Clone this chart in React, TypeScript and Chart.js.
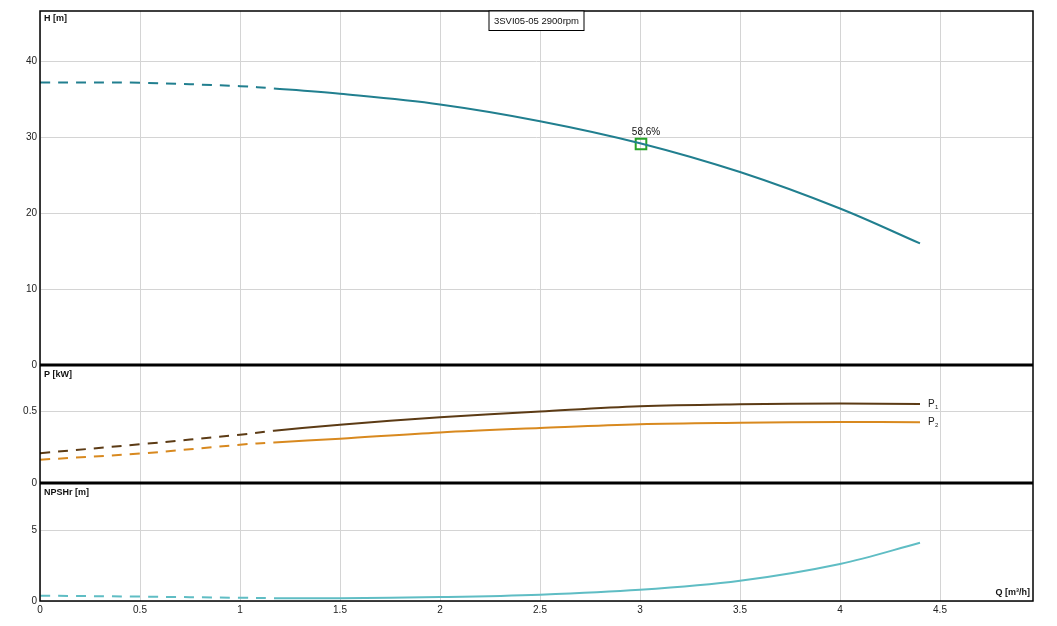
import { useEffect, useRef } from 'react';
import { Chart, registerables } from 'chart.js';

Chart.register(...registerables);

// ---- data ----
const FLOW = [0, 0.5, 1.0, 1.17, 1.5, 2.0, 2.5, 3.0, 3.5, 4.0, 4.4];
const HEAD = [37.2, 37.15, 36.7, 36.4, 35.7, 34.3, 32.1, 29.2, 25.4, 20.6, 16.0];
const POWER_P1 = [0.209, 0.271, 0.338, 0.366, 0.408, 0.46, 0.5, 0.537, 0.551, 0.556, 0.553];
const POWER_P2 = [0.163, 0.206, 0.268, 0.284, 0.31, 0.354, 0.385, 0.412, 0.422, 0.427, 0.425];
const NPSHR = [0.38, 0.31, 0.23, 0.2, 0.19, 0.28, 0.45, 0.79, 1.43, 2.62, 4.12];
const DASHED_UNTIL = 1.17;

const DUTY_Q = [3.005];
const DUTY_H = [29.1];
const DUTY_LABEL = ['58.6%'];

const Q_TICKS = [0, 0.5, 1, 1.5, 2, 2.5, 3, 3.5, 4, 4.5];
const H_TICKS = [0, 10, 20, 30, 40];
const P_TICKS = [0, 0.5];
const NPSH_TICKS = [0, 5];

const Q_MAX = 4.965;
const H_MAX = 46.6;
const P_MAX = 0.826;
const NPSH_MAX = 8.35;

const TITLE = '3SVI05-05 2900rpm';
const H_TITLE = 'H [m]';
const P_TITLE = 'P [kW]';
const NPSH_TITLE = 'NPSHr [m]';
const Q_TITLE = 'Q [m³/h]';
const P_LABELS = [['P', '1'], ['P', '2']];

const FONT = '"Liberation Sans", Arial, sans-serif';
const GRID = '#d4d4d4';

const pts = (ys: number[]) => FLOW.map((x, i) => ({ x, y: ys[i] }));
const dashSeg = { borderDash: (c: any) => (c.p1.parsed.x <= DASHED_UNTIL + 1e-9 ? [10, 8] : []) };

const setTicks = (vals: number[]) => (scale: any) => {
  scale.ticks = vals.map((v) => ({ value: v }));
};

const overlay = {
  id: 'overlay',
  afterDraw(chart: any) {
    const { ctx, chartArea: a, scales } = chart;
    ctx.save();
    // panel separators
    ctx.strokeStyle = '#000';
    ctx.lineWidth = 3;
    for (const y of [scales.yP.top, scales.yN.top]) {
      ctx.beginPath();
      ctx.moveTo(a.left, y);
      ctx.lineTo(a.right, y);
      ctx.stroke();
    }
    // outer border
    ctx.lineWidth = 1.5;
    ctx.strokeRect(a.left, a.top, a.right - a.left, a.bottom - a.top);

    // axis titles
    ctx.fillStyle = '#111';
    ctx.textBaseline = 'middle';
    ctx.textAlign = 'left';
    ctx.font = 'bold 9px ' + FONT;
    ctx.fillText(H_TITLE, a.left + 4, scales.yH.top + 8);
    ctx.fillText(P_TITLE, a.left + 4, scales.yP.top + 10);
    ctx.fillText(NPSH_TITLE, a.left + 4, scales.yN.top + 10);
    ctx.textAlign = 'right';
    ctx.fillText(Q_TITLE, a.right - 3, a.bottom - 8);

    // title box
    const cx = (a.left + a.right) / 2;
    ctx.lineWidth = 1;
    ctx.strokeStyle = '#000';
    ctx.fillStyle = '#fff';
    ctx.fillRect(cx - 47.5, a.top, 95, 19.5);
    ctx.strokeRect(cx - 47.5, a.top, 95, 19.5);
    ctx.fillStyle = '#111';
    ctx.textAlign = 'center';
    ctx.font = '9.5px ' + FONT;
    ctx.fillText(TITLE, cx, a.top + 10);

    // duty point label
    ctx.font = '10px ' + FONT;
    DUTY_Q.forEach((q, i) => {
      const px = scales.x.getPixelForValue(q);
      const py = scales.yH.getPixelForValue(DUTY_H[i]);
      ctx.fillText(DUTY_LABEL[i], px + 5, py - 12);
    });

    // P1 / P2 labels
    const last = FLOW.length - 1;
    const ex = scales.x.getPixelForValue(FLOW[last]) + 8;
    [POWER_P1[last], POWER_P2[last]].forEach((v, i) => {
      const py = scales.yP.getPixelForValue(v);
      ctx.textAlign = 'left';
      ctx.fillStyle = '#222';
      ctx.font = '10px ' + FONT;
      ctx.fillText(P_LABELS[i][0], ex, py);
      ctx.font = '6px ' + FONT;
      ctx.fillText(P_LABELS[i][1], ex + 7, py + 3);
    });
    ctx.restore();
  },
};

export default function App() {
  const ref = useRef<HTMLCanvasElement>(null);

  useEffect(() => {
    if (!ref.current) return;
    const tickFont = { family: FONT, size: 10 };
    const yCommon = (min: number, max: number, ticks: number[], weight: number, sw: number) => ({
      type: 'linear' as const,
      position: 'left' as const,
      stack: 'panels',
      stackWeight: sw,
      weight,
      min,
      max,
      afterBuildTicks: setTicks(ticks),
      afterFit: (s: any) => {
        s.width = 40;
      },
      grid: { color: GRID, lineWidth: 1, drawTicks: false },
      border: { display: false },
      ticks: {
        font: tickFont,
        color: '#222',
        padding: 3,
        autoSkip: false,
        callback: (v: any) => String(Number(v)),
      },
    });

    const lineDs = (label: string, ys: number[], axis: string, color: string) => ({
      label,
      data: pts(ys),
      yAxisID: axis,
      borderColor: color,
      borderWidth: 2,
      pointRadius: 0,
      tension: 0.35,
      segment: dashSeg,
    });

    const chart = new Chart(ref.current, {
      type: 'line',
      data: {
        datasets: [
          lineDs('H', HEAD, 'yH', '#217f8f'),
          lineDs('P1', POWER_P1, 'yP', '#5c3b15'),
          lineDs('P2', POWER_P2, 'yP', '#d8891f'),
          lineDs('NPSHr', NPSHR, 'yN', '#5fbdc4'),
          {
            label: 'duty',
            data: DUTY_Q.map((x, i) => ({ x, y: DUTY_H[i] })),
            yAxisID: 'yH',
            showLine: false,
            pointStyle: 'rect',
            pointRadius: 7.5,
            pointBorderWidth: 2,
            pointBorderColor: '#27a327',
            pointBackgroundColor: 'rgba(0,0,0,0)',
            borderColor: '#27a327',
            backgroundColor: 'rgba(0,0,0,0)',
          },
        ],
      },
      options: {
        animation: false,
        responsive: false,
        maintainAspectRatio: false,
        layout: { padding: { top: 11, right: 24, left: 0, bottom: 0 } },
        plugins: { legend: { display: false }, tooltip: { enabled: false }, title: { display: false } },
        scales: {
          x: {
            type: 'linear',
            position: 'bottom',
            min: 0,
            max: Q_MAX,
            afterBuildTicks: setTicks(Q_TICKS),
            afterFit: (s: any) => {
              s.height = 25;
            },
            grid: { color: GRID, lineWidth: 1, drawTicks: false },
            border: { display: false },
            ticks: {
              font: tickFont,
              color: '#222',
              padding: 3,
              autoSkip: false,
              maxRotation: 0,
              callback: (v: any) => String(Number(v)),
            },
          },
          yH: yCommon(0, H_MAX, H_TICKS, 3, 3),
          yP: yCommon(0, P_MAX, P_TICKS, 2, 1),
          yN: yCommon(0, NPSH_MAX, NPSH_TICKS, 1, 1),
        } as any,
      },
      plugins: [overlay],
    } as any);
    return () => chart.destroy();
  }, []);

  return (
    <div style={{ position: 'absolute', left: 0, top: 0, width: 1057, height: 626, background: '#fff' }}>
      <canvas ref={ref} width={1057} height={626} style={{ width: 1057, height: 626, display: 'block' }} />
    </div>
  );
}
